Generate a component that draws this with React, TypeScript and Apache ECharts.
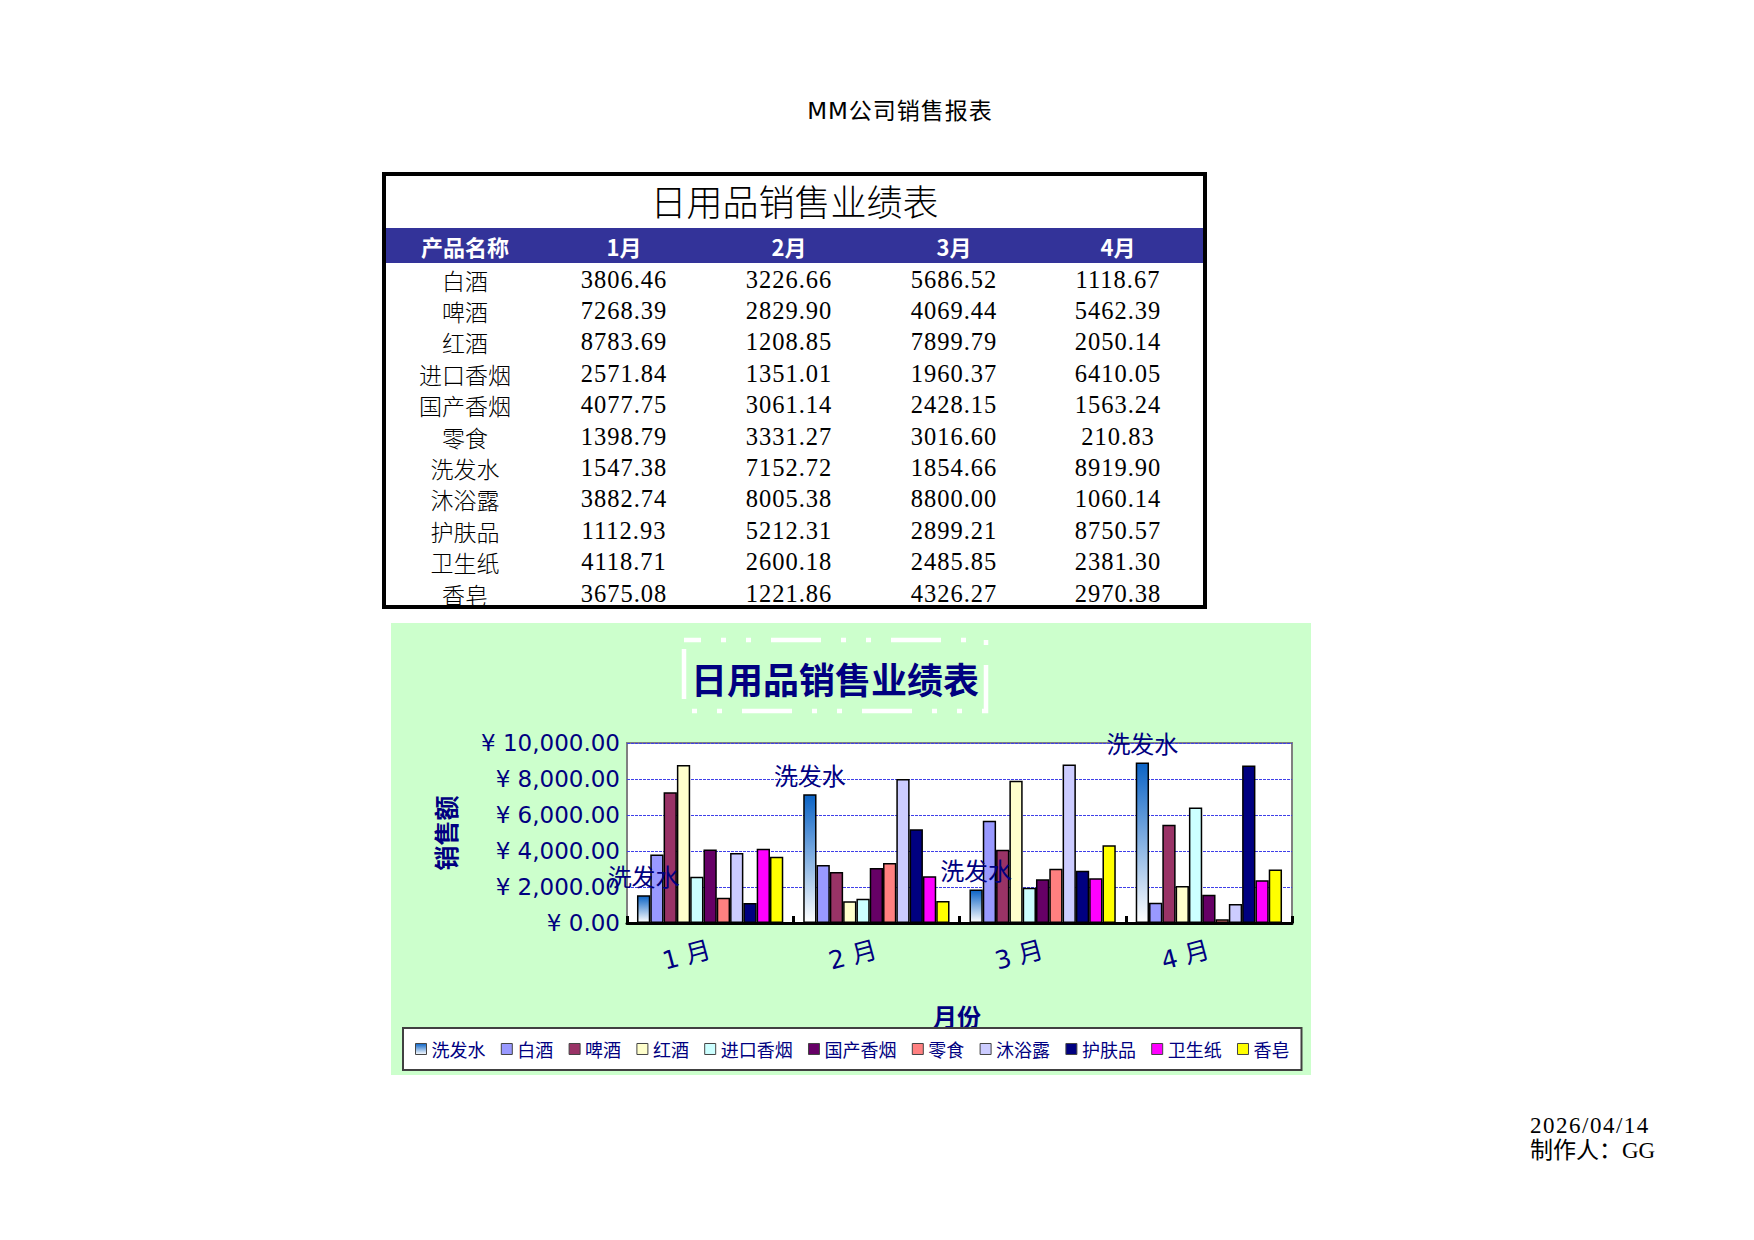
import React, { useEffect, useRef } from 'react';
import * as echarts from 'echarts';

// months and products
const months = ['1月', '2月', '3月', '4月'];
const productNames = ['白酒', '啤酒', '红酒', '进口香烟', '国产香烟', '零食', '洗发水', '沐浴露', '护肤品', '卫生纸', '香皂'];

// monthly sales per product (1月..4月)
const baijiu = [3806.46, 3226.66, 5686.52, 1118.67];
const pijiu = [7268.39, 2829.9, 4069.44, 5462.39];
const hongjiu = [8783.69, 1208.85, 7899.79, 2050.14];
const jinkouXiangyan = [2571.84, 1351.01, 1960.37, 6410.05];
const guochanXiangyan = [4077.75, 3061.14, 2428.15, 1563.24];
const lingshi = [1398.79, 3331.27, 3016.6, 210.83];
const xifashui = [1547.38, 7152.72, 1854.66, 8919.9];
const muyulu = [3882.74, 8005.38, 8800.0, 1060.14];
const hufupin = [1112.93, 5212.31, 2899.21, 8750.57];
const weishengzhi = [4118.71, 2600.18, 2485.85, 2381.3];
const xiangzao = [3675.08, 1221.86, 4326.27, 2970.38];

// table row order
const tableRows = [baijiu, pijiu, hongjiu, jinkouXiangyan, guochanXiangyan, lingshi, xifashui, muyulu, hufupin, weishengzhi, xiangzao];

// chart series order (洗发水 first)
const seriesNames = ['洗发水', '白酒', '啤酒', '红酒', '进口香烟', '国产香烟', '零食', '沐浴露', '护肤品', '卫生纸', '香皂'];
const seriesValues = [xifashui, baijiu, pijiu, hongjiu, jinkouXiangyan, guochanXiangyan, lingshi, muyulu, hufupin, weishengzhi, xiangzao];
const seriesColors = ['#0b63c5', '#9999ff', '#993366', '#ffffcc', '#ccffff', '#660066', '#ff8080', '#ccccff', '#000080', '#ff00ff', '#ffff00'];

const yTicks = [0, 2000, 4000, 6000, 8000, 10000];

const NAVY = '#000080';
const CJK = "'Noto Sans CJK SC', sans-serif";
const SERIF = "'Liberation Serif', 'Noto Sans CJK SC', serif";

const colCenters = [465, 624, 789, 954, 1118];
const firstRowY = 279.6;
const rowPitch = 31.4;

const SalesChart: React.FC = () => {
  const chartRef = useRef<HTMLDivElement>(null);

  useEffect(() => {
    if (!chartRef.current) return;
    const chart = echarts.init(chartRef.current, null, { renderer: 'svg' });

    const series: any[] = seriesNames.map((name, i) => ({
      name,
      type: 'bar',
      data: seriesValues[i],
      barGap: '0%',
      barCategoryGap: '12%',
      z: i === 0 ? 3 : 2,
      itemStyle: {
        color: i === 0
          ? new echarts.graphic.LinearGradient(0, 0, 0, 1, [
            { offset: 0, color: '#0b63c5' },
            { offset: 1, color: '#ffffff' }
          ])
          : seriesColors[i],
        borderColor: '#000',
        borderWidth: 1.5
      },
      label: i === 0 ? {
        show: true,
        position: 'top',
        distance: 8,
        formatter: '{a}',
        color: NAVY,
        fontSize: 24,
        fontFamily: CJK
      } : { show: false }
    }));

    chart.setOption({
      animation: false,
      backgroundColor: '#ccffcc',
      grid: {
        left: 236,
        top: 120,
        right: 19,
        bottom: 152,
        show: true,
        backgroundColor: '#ffffff',
        borderColor: '#808080',
        borderWidth: 2,
        containLabel: false,
        outerBoundsMode: 'none'
      },
      legend: {
        left: 12,
        top: 405,
        padding: [12, 12],
        itemGap: 15.3,
        itemWidth: 11,
        itemHeight: 11,
        icon: 'rect',
        backgroundColor: '#ffffff',
        borderColor: '#404040',
        borderWidth: 2,
        itemStyle: { borderColor: '#444', borderWidth: 1 },
        textStyle: { color: NAVY, fontSize: 18, fontFamily: CJK },
        data: seriesNames
      },
      xAxis: {
        type: 'category',
        data: months,
        axisLine: { show: true, lineStyle: { color: '#000', width: 3 } },
        axisTick: { show: true, inside: true, length: 7, lineStyle: { color: '#000', width: 3 } },
        axisLabel: {
          rotate: 15,
          margin: 26,
          color: NAVY,
          fontSize: 25,
          fontFamily: "'DejaVu Sans', 'Noto Sans CJK SC', sans-serif",
          formatter: (v: string) => v.replace('月', ' 月')
        }
      },
      yAxis: {
        type: 'value',
        min: yTicks[0],
        max: yTicks[yTicks.length - 1],
        interval: yTicks[1] - yTicks[0],
        axisLine: { show: false },
        axisTick: { show: false },
        axisLabel: {
          margin: 7,
          color: NAVY,
          fontSize: 23,
          fontFamily: "'DejaVu Sans', sans-serif",
          formatter: (v: number) => '¥ ' + v.toLocaleString('en-US', { minimumFractionDigits: 2, maximumFractionDigits: 2 })
        },
        splitLine: { show: true, lineStyle: { color: '#3f3fe8', width: 1.2, type: [3, 1] } }
      },
      graphic: [
        {
          type: 'rect',
          shape: { x: 293, y: 17, width: 302, height: 71 },
          style: { fill: 'none', stroke: '#ffffff', lineWidth: 4.5, lineDash: [50, 20, 5, 20, 5, 20], lineDashOffset: 33 }
        },
        {
          type: 'text',
          x: 444,
          y: 55,
          style: {
            text: '日用品销售业绩表',
            align: 'center',
            verticalAlign: 'middle',
            fill: NAVY,
            font: `bold 36px ${CJK}`
          }
        },
        {
          type: 'text',
          x: 54,
          y: 210,
          rotation: Math.PI / 2,
          style: {
            text: '销售额',
            align: 'center',
            verticalAlign: 'middle',
            fill: NAVY,
            font: `bold 25px ${CJK}`
          }
        },
        {
          type: 'text',
          x: 566,
          y: 392,
          style: {
            text: '月份',
            align: 'center',
            verticalAlign: 'middle',
            fill: NAVY,
            font: `bold 24px ${CJK}`
          }
        }
      ],
      series
    } as any);

    return () => {
      chart.dispose();
    };
  }, []);

  return (
    <div
      ref={chartRef}
      style={{ position: 'absolute', left: 391, top: 623, width: 920, height: 452 }}
    />
  );
};

const cellStyle = (cx: number, cy: number): React.CSSProperties => ({
  position: 'absolute',
  left: cx - 80,
  top: cy - 16,
  width: 160,
  height: 32,
  lineHeight: '32px',
  textAlign: 'center',
  whiteSpace: 'nowrap'
});

const App: React.FC = () => {
  return (
    <div style={{ position: 'absolute', left: 0, top: 0, width: 1754, height: 1240, background: '#fff', overflow: 'hidden' }}>
      <div
        style={{
          position: 'absolute', left: 700, top: 96, width: 400, textAlign: 'center',
          fontFamily: "'DejaVu Sans', 'Noto Sans CJK SC', sans-serif", fontSize: 23, letterSpacing: 1, lineHeight: '30px', color: '#000'
        }}
      >
        MM公司销售报表
      </div>

      {/* table frame */}
      <div style={{ position: 'absolute', left: 382, top: 172, width: 825, height: 437, border: '4px solid #000', boxSizing: 'border-box' }} />
      <div style={{ position: 'absolute', left: 386, top: 228, width: 817, height: 35, background: '#333399' }} />
      <div
        style={{
          position: 'absolute', left: 386, top: 178, width: 817, textAlign: 'center',
          fontFamily: CJK, fontSize: 36, lineHeight: '44px', color: '#000', fontWeight: 300
        }}
      >
        日用品销售业绩表
      </div>

      {/* header */}
      {['产品名称', ...months].map((h, j) => (
        <div key={h} style={{ ...cellStyle(colCenters[j], 245.5), color: '#fff', fontWeight: 'bold', fontFamily: CJK, fontSize: 22 }}>
          {h}
        </div>
      ))}

      {/* rows */}
      {productNames.map((name, i) => (
        <React.Fragment key={name}>
          <div style={{ ...cellStyle(colCenters[0], firstRowY + i * rowPitch), fontFamily: CJK, fontSize: 23, color: '#000', fontWeight: 300 }}>
            {name}
          </div>
          {tableRows[i].map((v, j) => (
            <div
              key={j}
              style={{ ...cellStyle(colCenters[j + 1], firstRowY + i * rowPitch), fontFamily: SERIF, fontSize: 24.5, letterSpacing: 1, color: '#000' }}
            >
              {v.toFixed(2)}
            </div>
          ))}
        </React.Fragment>
      ))}

      <SalesChart />

      <div
        style={{
          position: 'absolute', left: 1530, top: 1113, fontFamily: SERIF, fontSize: 23, lineHeight: '25px',
          letterSpacing: 1.5, color: '#000', whiteSpace: 'nowrap'
        }}
      >
        <div>2026/04/14</div>
        <div style={{ letterSpacing: 0 }}>制作人：GG</div>
      </div>
    </div>
  );
};

export default App;
